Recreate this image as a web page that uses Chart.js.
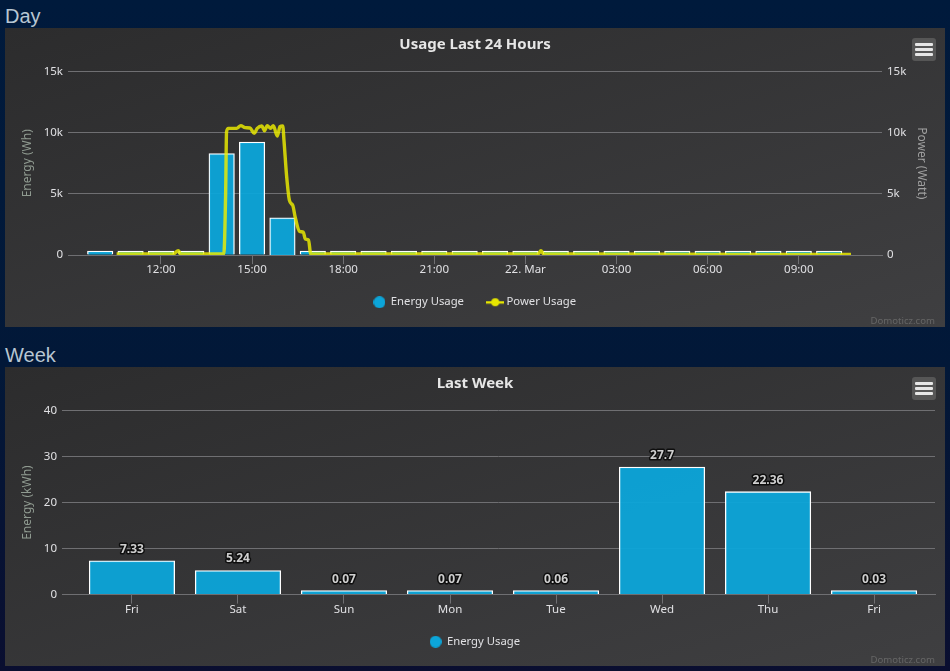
<!DOCTYPE html>
<html>
<head>
<meta charset="utf-8">
<script src="https://cdn.jsdelivr.net/npm/chart.js@4"></script>
<style>
html,body{margin:0;padding:0;width:950px;height:671px;overflow:hidden;background:linear-gradient(#001a3c,#021838 55%,#0a0e30);font-family:"Liberation Sans",sans-serif}
.h{position:absolute;left:5px;font-size:20px;line-height:24px;color:#b8c6d2}
.panel{position:absolute;left:5px;width:940px;height:299px;background:linear-gradient(to bottom right,#2c2c2d,#3f3f41)}
.panel canvas{position:absolute;left:0;top:0}
.menu{position:absolute;left:907px;top:10px;width:24px;height:23px;background:#565656;border-radius:3px}
.menu i{position:absolute;left:3px;width:18px;height:3px;background:#e6e6e6;border-radius:1px}
.credit{position:absolute;right:10px;top:287px;font:9.6px/11px "Noto Sans",sans-serif;color:#666}
</style>
</head>
<body>
<div class="h" style="top:4px">Day</div>
<div class="panel" style="top:28px">
  <canvas id="day" width="940" height="299"></canvas>
  <div class="menu"><i style="top:5px"></i><i style="top:10px"></i><i style="top:15px"></i></div>
  <div class="credit">Domoticz.com</div>
</div>
<div class="h" style="top:343px">Week</div>
<div class="panel" style="top:367px">
  <canvas id="week" width="940" height="299"></canvas>
  <div class="menu"><i style="top:5px"></i><i style="top:10px"></i><i style="top:15px"></i></div>
  <div class="credit">Domoticz.com</div>
</div>
<script>
// Day chart data (x in hours, counted from 00:00 on the first day)
const energyHours = [10,11,12,13,14,15,16,17,18,19,20,21,22,23,24,25,26,27,28,29,30,31,32,33,34];
const energyWh = [330,330,330,330,8300,9240,3040,330,330,330,330,330,330,330,330,330,330,330,330,330,330,330,330,330,330];
const powerHours = [10.54,12.41,12.57,12.65,14.07,14.13,14.16,14.22,14.49,14.63,14.77,14.93,15.07,15.17,15.32,15.41,15.5,15.61,15.7,15.83,15.92,16.01,16.05,16.14,16.23,16.34,16.42,16.56,16.69,16.75,16.86,16.93,24.42,24.51,24.6,34.72];
const powerWatt = [100,100,350,100,100,5000,10080,10357,10357,10576,10412,10385,9946,10357,10549,10165,10576,10357,10576,9727,10494,10549,9398,6384,4466,4055,3096,1945,1863,1315,1233,100,100,350,100,60];
const dayTickHours = [12,15,18,21,24,27,30,33];
const dayTickLabels = ["12:00","15:00","18:00","21:00","22. Mar","03:00","06:00","09:00"];
// Week chart data
const weekDays = ["Fri","Sat","Sun","Mon","Tue","Wed","Thu","Fri"];
const weekKwh = [7.33,5.24,0.07,0.07,0.06,27.7,22.36,0.03];

const FONT = '"Noto Sans", sans-serif';
const TXT = '#e0e0e3', GRID = '#6f6f72', BLUE = 'rgba(12,165,217,0.95)', YEL = 'rgba(238,238,0,0.82)';
Chart.defaults.font.family = FONT;
Chart.defaults.animation = false;
Chart.defaults.devicePixelRatio = 1;

function lineMark(){
  const c = document.createElement('canvas'); c.width = 18; c.height = 10;
  const g = c.getContext('2d');
  g.fillStyle = '#e6e600'; g.fillRect(0,4,18,2.4);
  g.beginPath(); g.arc(9,5,4,0,Math.PI*2); g.fill();
  return c;
}
function dotMark(){
  const c = document.createElement('canvas'); c.width = 12; c.height = 12;
  const g = c.getContext('2d');
  g.fillStyle = '#0ca5d9';
  g.beginPath(); g.arc(6,6,6,0,Math.PI*2); g.fill();
  return c;
}
function legendOpts(){
  const last = ch => ch.data.datasets.length - 1;
  return {position:'bottom',labels:{color:TXT,font:{size:11.3,family:FONT},usePointStyle:true,boxWidth:12,boxHeight:12,padding:8,
    generateLabels(ch){
      return ch.data.datasets.map((d,i)=>({text:d.label+(i<last(ch)?'\u00a0\u00a0\u00a0\u00a0\u00a0\u00a0':''),fontColor:TXT,datasetIndex:i,hidden:false,lineWidth:0,strokeStyle:'transparent',
        fillStyle:'#0ca5d9',pointStyle:d.type==='line'?lineMark():dotMark()}));
    }}};
}
function titleOpts(t){return {display:true,text:t,color:'#e6e6e6',font:{size:15,weight:'bold',family:FONT},padding:{top:8,bottom:17.5}};}
function yAxis(pos,title,max,step,fmt,w,titlePad,color){
  return {position:pos,min:0,max:max,
    afterFit(s){s.width=w;},
    border:{display:false},
    grid:{display:pos==='left',color:GRID,lineWidth:1,drawTicks:false},
    ticks:{stepSize:step,color:TXT,font:{size:11.5,family:FONT},padding:5,callback:fmt},
    title:{display:true,text:title,color:color,font:{size:12,family:FONT},padding:{top:titlePad,bottom:0}}};
}
const kFmt = v => v===0?'0':(v/1000)+'k';

new Chart(document.getElementById('day'),{
  type:'bar',
  data:{datasets:[
    {type:'bar',label:'Energy Usage',order:2,yAxisID:'y',data:energyHours.map((h,i)=>({x:h,y:energyWh[i]})),
     backgroundColor:BLUE,borderColor:'#ffffff',borderWidth:1.3,barThickness:25.5,borderSkipped:'bottom'},
    {type:'line',label:'Power Usage',order:1,yAxisID:'y1',data:powerHours.map((h,i)=>({x:h,y:powerWatt[i]})),
     borderColor:YEL,borderWidth:3.4,pointRadius:0,cubicInterpolationMode:'monotone'}
  ]},
  options:{responsive:false,
    layout:{padding:{left:0,right:0,top:0,bottom:9.1}},
    plugins:{title:titleOpts('Usage Last 24 Hours'),legend:legendOpts(),tooltip:{enabled:false}},
    scales:{
      x:{type:'linear',offset:false,min:8.94,max:35.74,
        afterFit(s){s.height=33.5;},
        afterBuildTicks(s){s.ticks=dayTickHours.map(v=>({value:v}));},
        border:{display:true,color:GRID},
        grid:{display:true,offset:false,drawOnChartArea:false,drawTicks:true,tickLength:9,tickColor:GRID},
        ticks:{autoSkip:false,maxRotation:0,padding:-1,color:TXT,font:{size:11.5,family:FONT},
          callback:v=>dayTickLabels[dayTickHours.indexOf(v)]}},
      y:yAxis('left','Energy (Wh)',15000,5000,kFmt,63,15,'#8f9a90'),
      y1:yAxis('right','Power (Watt)',15000,5000,kFmt,63,16.3,'#a0a0a0')
    }}
});

const valueLabels = {id:'valueLabels',afterDatasetsDraw(ch){
  const g = ch.ctx, meta = ch.getDatasetMeta(0);
  g.save(); g.font = 'bold 12px '+FONT; g.textAlign='center'; g.textBaseline='middle'; g.lineJoin='round';
  meta.data.forEach((b,i)=>{
    const t = String(weekKwh[i]);
    g.strokeStyle='rgba(10,10,10,0.9)'; g.lineWidth=3; g.strokeText(t,b.x,b.y-11.5);
    g.fillStyle='#cfcfcf'; g.fillText(t,b.x,b.y-11.5);
  });
  g.restore();
}};

new Chart(document.getElementById('week'),{
  type:'bar',
  plugins:[valueLabels],
  data:{datasets:[
    {type:'bar',label:'Energy Usage',data:weekKwh.map((v,i)=>({x:i,y:v})),
     backgroundColor:BLUE,borderColor:'#ffffff',borderWidth:1.3,barThickness:85.5,minBarLength:4,borderSkipped:'bottom'}
  ]},
  options:{responsive:false,
    layout:{padding:{left:0,right:0,top:0,bottom:8.6}},
    plugins:{title:titleOpts('Last Week'),legend:legendOpts(),tooltip:{enabled:false}},
    scales:{
      x:{type:'linear',offset:false,min:-0.66,max:7.575,
        afterFit(s){s.height=33.5;},
        afterBuildTicks(s){s.ticks=weekDays.map((d,i)=>({value:i}));},
        border:{display:true,color:GRID},
        grid:{display:true,offset:false,drawOnChartArea:false,drawTicks:true,tickLength:9,tickColor:GRID},
        ticks:{autoSkip:false,maxRotation:0,padding:-1,color:TXT,font:{size:11.5,family:FONT},
          callback:v=>weekDays[v]}},
      y:yAxis('left','Energy (kWh)',40,10,v=>v,57,15,'#8f9a90'),
      yRight:{position:'right',min:0,max:40,afterFit(s){s.width=10;},border:{display:false},grid:{display:false},ticks:{display:false}}
    }}
});
</script>
</body>
</html>
